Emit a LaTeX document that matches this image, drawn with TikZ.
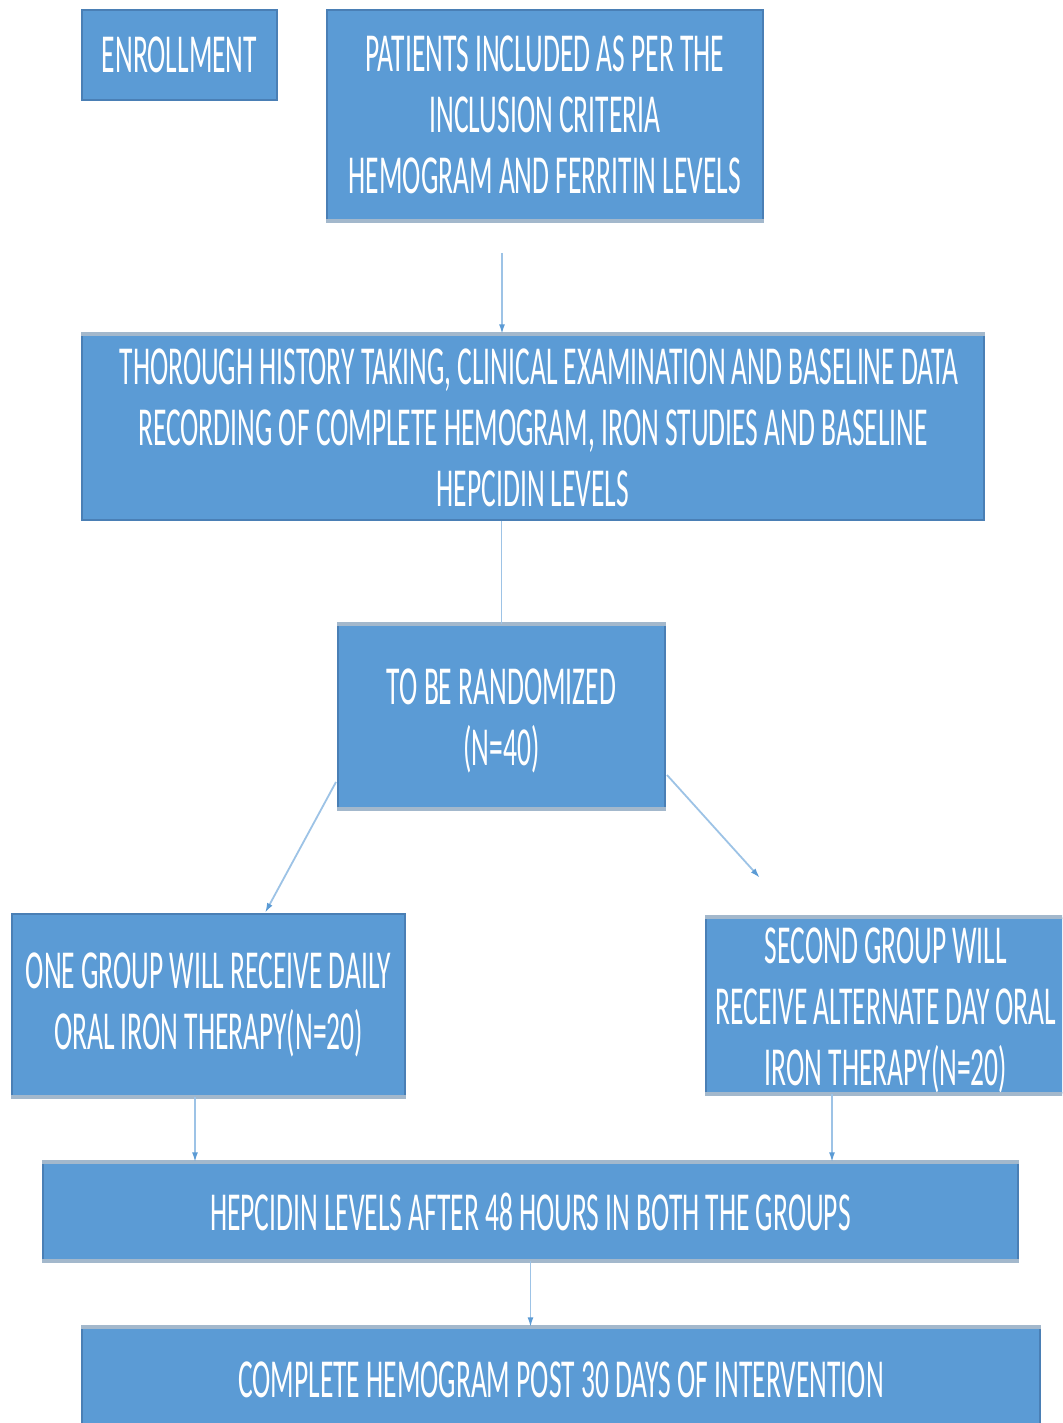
\documentclass[tikz,border=0pt]{standalone}
\usepackage{fontspec}
\setmainfont{Carlito}[FakeStretch=0.5]
\usetikzlibrary{arrows.meta}
\definecolor{boxfill}{HTML}{5B9BD5}
\definecolor{boxedge}{HTML}{4A7FB5}
\definecolor{lightedge}{HTML}{A3B8CC}
\definecolor{lineblue}{HTML}{9DC3E6}
\definecolor{tipblue}{HTML}{5B9BD5}
\begin{document}
\begin{tikzpicture}[x=1pt,y=-1pt,
  box/.style={draw=boxedge, line width=1.5pt, fill=boxfill, text=white, align=center,
    inner sep=0pt, font=\fontsize{55}{61}\selectfont},
  conn/.style={draw=lineblue, line width=1.8pt, -{Latex[length=10pt,width=6pt,color=tipblue]}},
  plainline/.style={draw=lineblue, line width=1.8pt},
  ledge/.style={draw=lightedge, line width=4pt}]
\clip (0,0) rectangle (1062,1423);
\fill[white] (0,0) rectangle (1062,1423);
\node[box, minimum width=195pt, minimum height=90pt] (enr) at (179.5,55) {ENROLLMENT};
\node[box, minimum width=436pt, minimum height=210pt] (pat) at (545,115)
  {PATIENTS INCLUDED AS PER THE\\INCLUSION CRITERIA\\HEMOGRAM AND FERRITIN LEVELS};
\node[box, minimum width=902pt, minimum height=185pt] (thor) at (533,427.5)
  {\ \ THOROUGH HISTORY TAKING, CLINICAL EXAMINATION AND BASELINE DATA\\RECORDING OF COMPLETE HEMOGRAM, IRON STUDIES AND BASELINE\\HEPCIDIN LEVELS};
\node[box, minimum width=327pt, minimum height=183pt] (rand) at (501.5,716.5)
  {\rule{0pt}{44pt}TO BE RANDOMIZED\\(N=40)};
\node[box, minimum width=393pt, minimum height=182pt] (one) at (208.5,1005)
  {ONE GROUP WILL RECEIVE DAILY\\ORAL IRON THERAPY(N=20)};
\node[box, minimum width=360pt, minimum height=171pt] (two) at (886,1005.5)
  {\rule{0pt}{45pt}SECOND GROUP WILL\\RECEIVE ALTERNATE DAY ORAL\\IRON THERAPY(N=20)};
\node[box, minimum width=975pt, minimum height=97pt] (hep) at (530.5,1211.5)
  {HEPCIDIN LEVELS AFTER 48 HOURS IN BOTH THE GROUPS};
\node[box, minimum width=958pt, minimum height=104pt] (comp) at (561,1380)
  {COMPLETE HEMOGRAM POST 30 DAYS OF INTERVENTION};
% light edges
\draw[ledge] (pat.south west) -- (pat.south east);
\draw[ledge] (thor.north west) -- (thor.north east);
\draw[ledge] (rand.north west) -- (rand.north east);
\draw[ledge] (rand.south west) -- (rand.south east);
\draw[ledge] (one.south west) -- (one.south east);
\draw[ledge] (two.north west) -- (two.north east);
\draw[ledge] (two.south west) -- (two.south east);
\draw[ledge] (hep.north west) -- (hep.north east);
\draw[ledge] (hep.south west) -- (hep.south east);
\draw[ledge] (comp.north west) -- (comp.north east);
% connectors
\coordinate (c1) at (502,253);
\draw[conn] (c1) -- (c1 |- thor.north);
\draw[plainline] (thor.south -| rand.north) -- (rand.north);
\coordinate (d1) at (336,782);
\coordinate (d1e) at (265,913);
\draw[conn] (d1) -- (d1e);
\coordinate (d2) at (667,775);
\coordinate (d2e) at (760,878);
\draw[conn] (d2) -- (d2e);
\path (one.south) ++(-13.5,0) coordinate (o1);
\draw[conn] (o1) -- (o1 |- hep.north);
\path (two.south) ++(-54,0) coordinate (t1);
\draw[conn] (t1) -- (t1 |- hep.north);
\draw[conn] (hep.south) -- (hep.south |- comp.north);
\end{tikzpicture}
\end{document}
